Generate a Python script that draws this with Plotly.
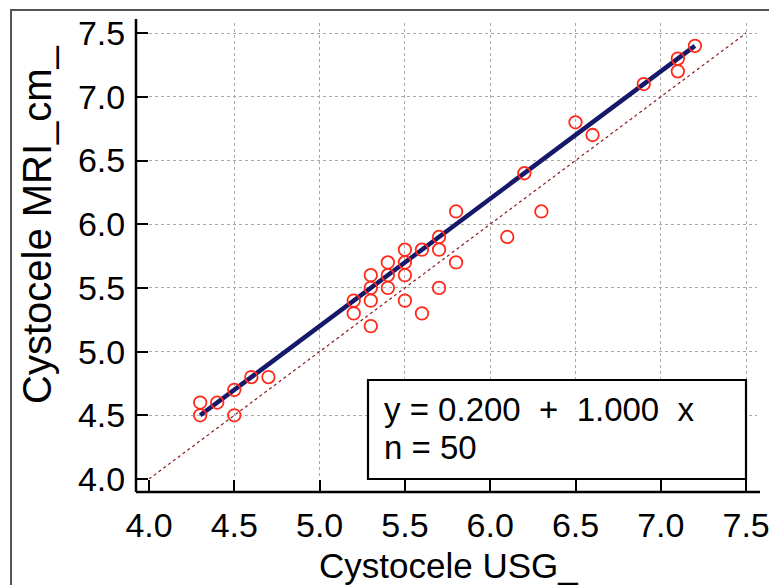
import plotly.graph_objects as go

# ---- data ----
usg = [4.3, 4.3, 4.4, 4.5, 4.5, 4.6, 4.7,
       5.2, 5.2, 5.3, 5.3, 5.3, 5.3, 5.4, 5.4, 5.4,
       5.5, 5.5, 5.5, 5.5, 5.6, 5.6, 5.7, 5.7, 5.7,
       5.8, 5.8, 6.1, 6.2, 6.3, 6.5, 6.6, 6.9, 7.1, 7.1, 7.2]
mri = [4.6, 4.5, 4.6, 4.7, 4.5, 4.8, 4.8,
       5.4, 5.3, 5.5, 5.6, 5.4, 5.2, 5.7, 5.6, 5.5,
       5.8, 5.7, 5.6, 5.4, 5.8, 5.3, 5.9, 5.8, 5.5,
       6.1, 5.7, 5.9, 6.4, 6.1, 6.8, 6.7, 7.1, 7.3, 7.2, 7.4]
intercept = 0.200
slope = 1.000
n_obs = 50
tick_vals = [4.0, 4.5, 5.0, 5.5, 6.0, 6.5, 7.0, 7.5]
tick_text = ["4.0", "4.5", "5.0", "5.5", "6.0", "6.5", "7.0", "7.5"]
x_title = "Cystocele USG_"
y_title = "Cystocele MRI_cm_"

W, H = 769, 585
ML, MR, MT, MB = 149, 12, 23, 106
PW, PH = W - ML - MR, H - MT - MB

def px_x(p):  # pixel -> paper x
    return (p - ML) / PW

def px_y(p):  # pixel -> paper y
    return (H - MB - p) / PH

FONT = "Liberation Sans, Arial, sans-serif"

fig = go.Figure()

# identity line
fig.add_trace(go.Scatter(x=[4.0, 7.5], y=[4.0, 7.5], mode="lines",
                         line=dict(color="#8b1a1a", width=1.2, dash="dot"),
                         hoverinfo="skip", showlegend=False))
# regression line
fx = [min(usg), max(usg)]
fy = [intercept + slope * v for v in fx]
fig.add_trace(go.Scatter(x=fx, y=fy, mode="lines",
                         line=dict(color="#16186a", width=4.5),
                         showlegend=False))
# points
fig.add_trace(go.Scatter(x=usg, y=mri, mode="markers",
                         marker=dict(symbol="circle-open", size=12.5,
                                     color="#ff2a1a", line=dict(width=1.8, color="#ff2a1a")),
                         showlegend=False))

axis_common = dict(
    tickvals=tick_vals, ticktext=tick_text,
    showgrid=True, gridcolor="#a8a8a8", gridwidth=1, griddash="dot",
    zeroline=False, showline=False, automargin=False,
    ticks="outside", ticklen=12, tickwidth=2, tickcolor="black",
    tickfont=dict(family=FONT, size=34, color="black"),
    ticklabeloverflow="allow",
)
fig.update_xaxes(range=[4.0, 4.0 + PW / 170.6], ticklabelstandoff=4, **axis_common)
fig.update_yaxes(range=[4.0, 4.0 + PH / 127.4], ticklabelstandoff=4, **axis_common)

shapes = [
    # outer frame
    dict(type="rect", xref="paper", yref="paper",
         x0=px_x(11), x1=px_x(W + 20), y0=px_y(H + 20), y1=px_y(10),
         line=dict(color="#555555", width=2), layer="below"),
    # offset y axis line
    dict(type="line", xref="paper", yref="paper",
         x0=px_x(136), x1=px_x(136), y0=px_y(492), y1=px_y(19),
         line=dict(color="black", width=2.5)),
    # offset x axis line
    dict(type="line", xref="paper", yref="paper",
         x0=px_x(136), x1=px_x(760), y0=px_y(492), y1=px_y(492),
         line=dict(color="black", width=2.5)),
    # stats box
    dict(type="rect", xref="paper", yref="paper",
         x0=px_x(368), x1=px_x(746), y0=px_y(479), y1=px_y(380),
         line=dict(color="black", width=2.2), fillcolor="white"),
]

annotations = [
    dict(text=x_title, xref="paper", yref="paper", x=px_x(448), y=px_y(565),
         xanchor="center", yanchor="middle", showarrow=False,
         font=dict(family=FONT, size=35, color="black")),
    dict(text=y_title, xref="paper", yref="paper", x=px_x(37), y=px_y(225),
         xanchor="center", yanchor="middle", showarrow=False, textangle=-90,
         font=dict(family=FONT, size=40, color="black")),
    dict(text=f"y = {intercept:.3f}  +  {slope:.3f}  x", xref="paper", yref="paper",
         x=px_x(382), y=px_y(409), xanchor="left", yanchor="middle", showarrow=False,
         font=dict(family=FONT, size=33, color="black")),
    dict(text=f"n = {n_obs}", xref="paper", yref="paper",
         x=px_x(382), y=px_y(447), xanchor="left", yanchor="middle", showarrow=False,
         font=dict(family=FONT, size=33, color="black")),
]

fig.update_layout(
    width=W, height=H,
    margin=dict(l=ML, r=MR, t=MT, b=MB, pad=0, autoexpand=False),
    paper_bgcolor="white", plot_bgcolor="white",
    shapes=shapes, annotations=annotations,
    showlegend=False,
)

fig.write_html("out.html")
